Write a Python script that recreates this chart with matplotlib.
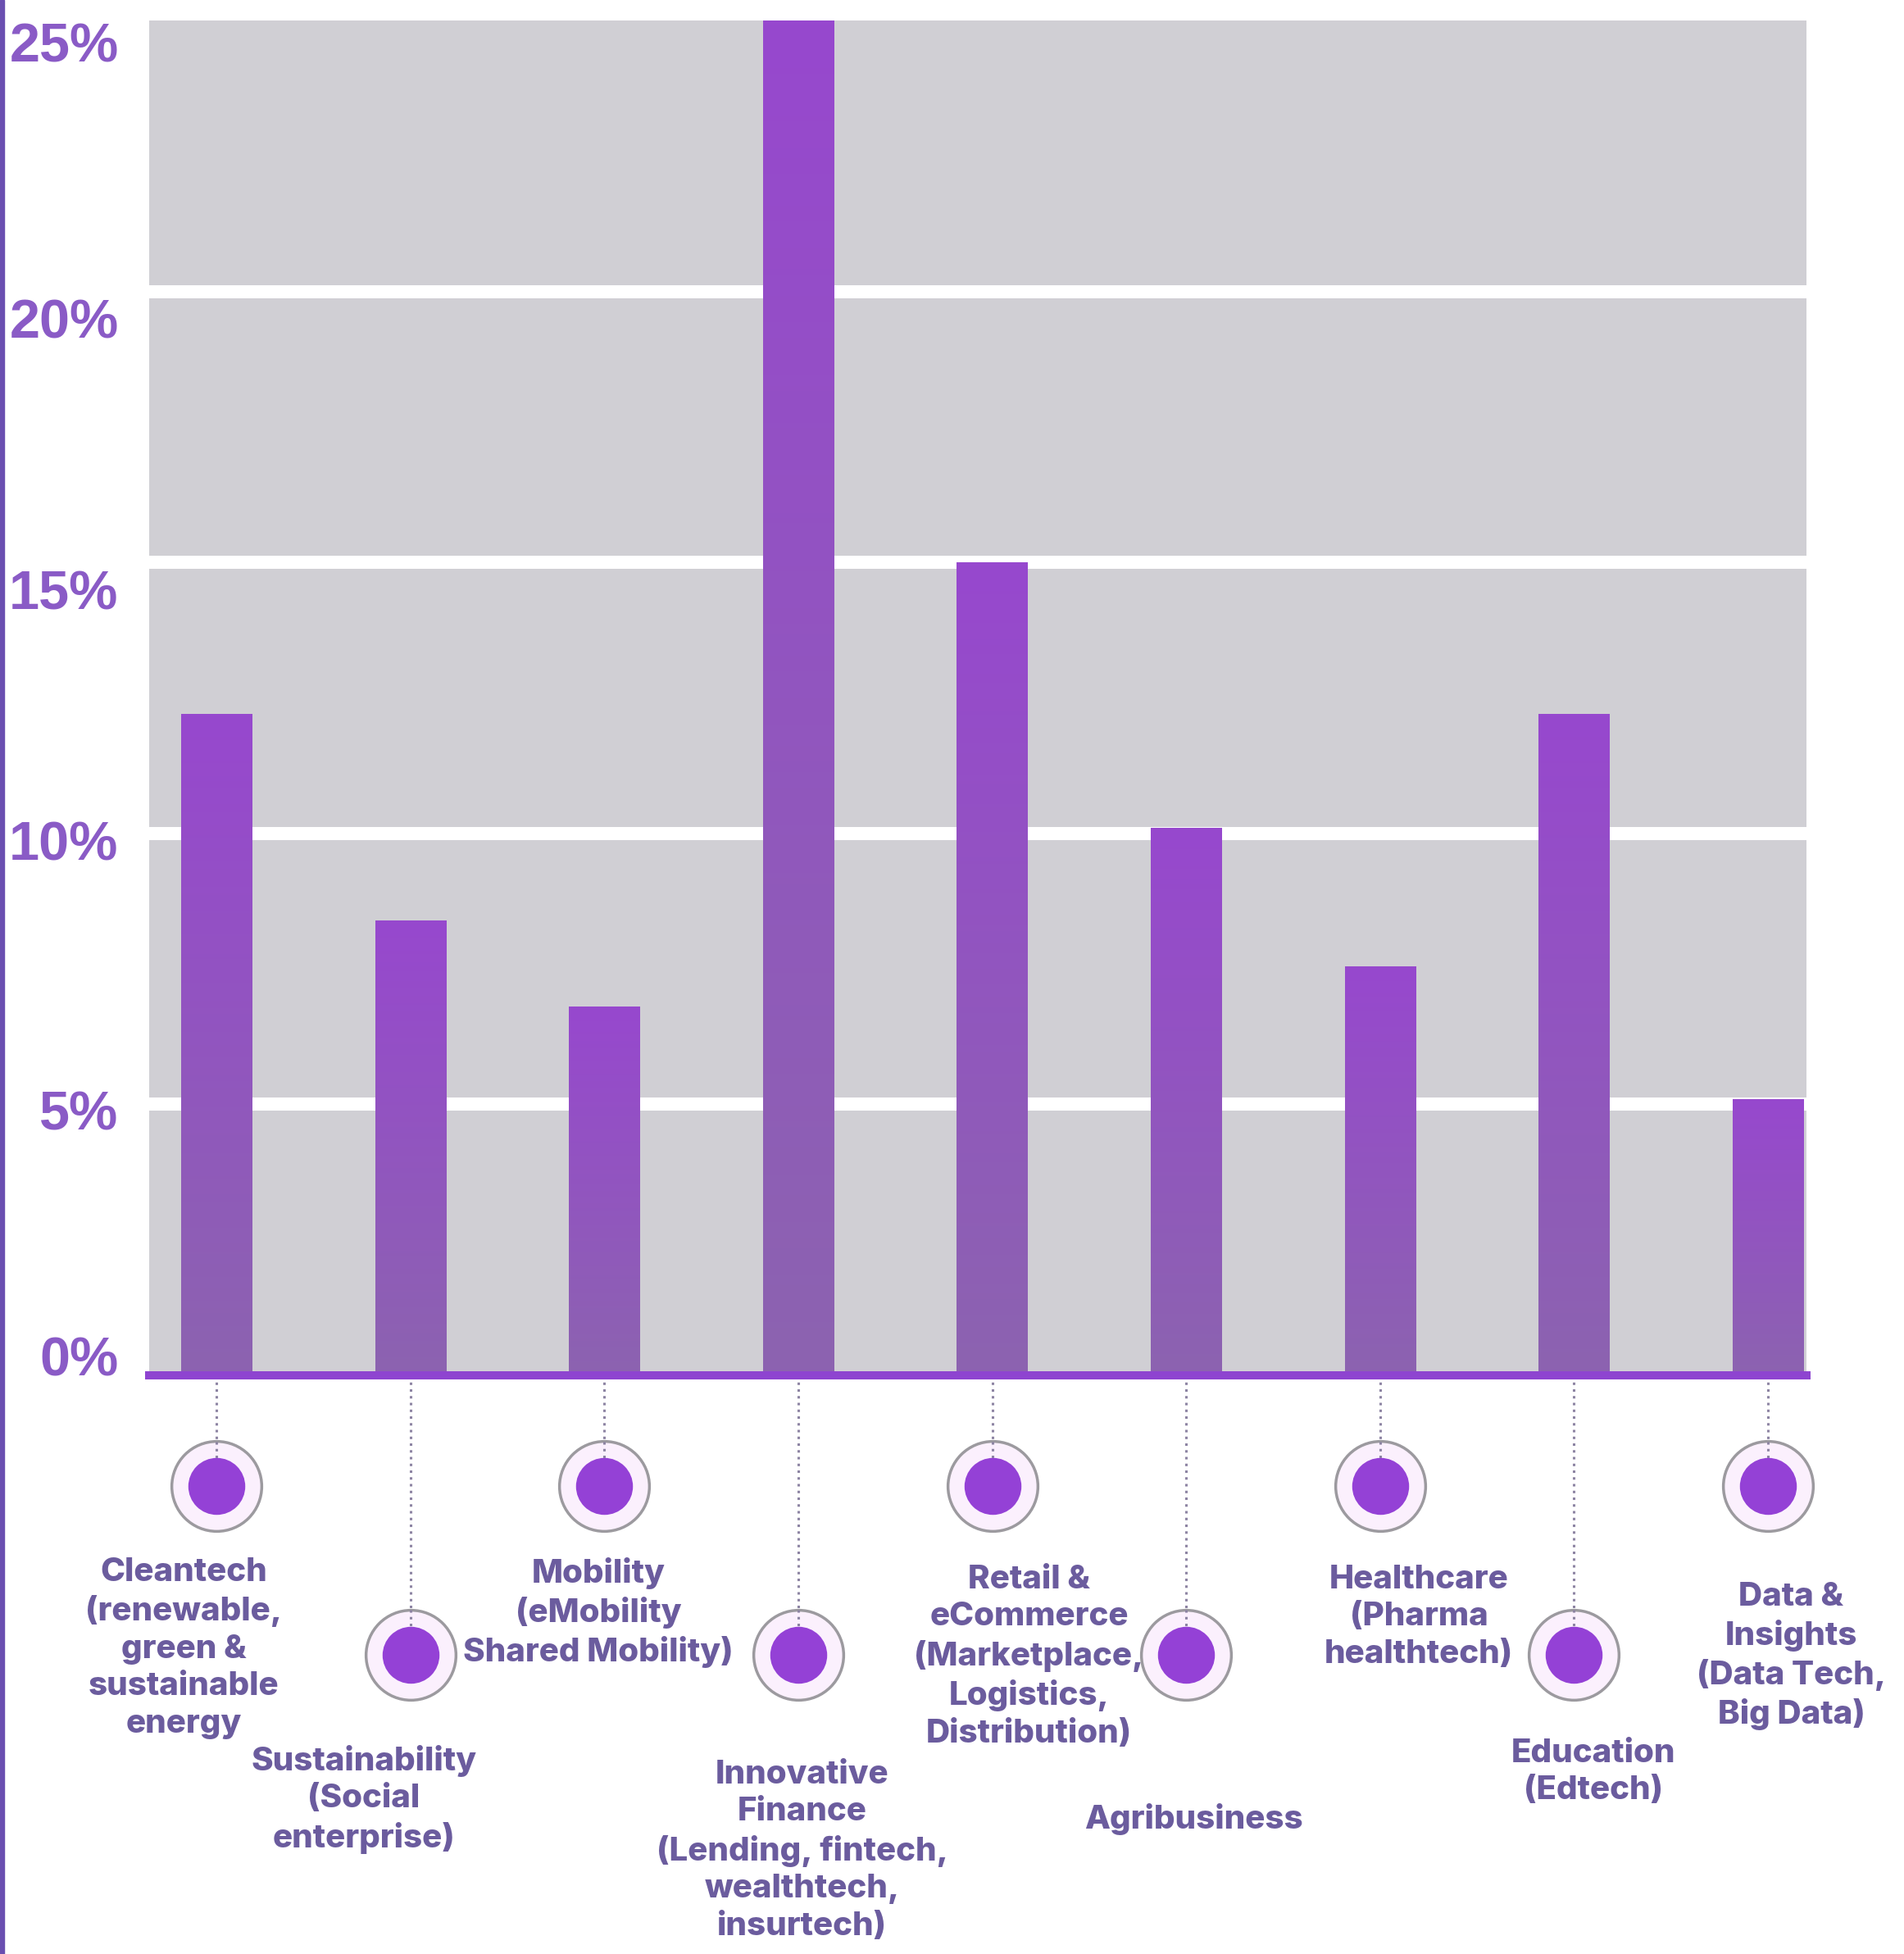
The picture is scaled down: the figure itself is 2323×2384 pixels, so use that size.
import numpy as np
import matplotlib.pyplot as plt
from matplotlib.colors import LinearSegmentedColormap
from matplotlib.patches import Rectangle
from matplotlib.transforms import ScaledTranslation

# sector shares (%)
sectors = [
    "Cleantech\n(renewable,\ngreen &\nsustainable\nenergy",
    "Sustainability\n(Social\nenterprise)",
    "Mobility\n(eMobility\nShared Mobility)",
    "Innovative\nFinance\n(Lending, fintech,\nwealthtech,\ninsurtech)",
    "Retail &\neCommerce\n(Marketplace,\nLogistics,\nDistribution)",
    "Agribusiness",
    "Healthcare\n(Pharma\nhealthtech)",
    "Education\n(Edtech)",
    "Data &\nInsights\n(Data Tech,\nBig Data)",
]
shares = [12.2, 8.4, 6.8, 25.0, 15.0, 10.1, 7.55, 12.2, 5.1]
tick_values = [0, 5, 10, 15, 20, 25]
tick_labels = ["0%", "5%", "10%", "15%", "20%", "25%"]

# layout of the label block under each bar (offset in bar units, top in axes fraction)
label_dx = [-0.17, -0.24, -0.03, 0.02, 0.19, 0.04, 0.20, 0.10, 0.12]
label_top = [-0.134, -0.2726, -0.134, -0.2835, -0.1395, -0.3156, -0.1395, -0.2678, -0.1522]
# small vertical nudges (points, downward) of the tick labels, as in the original
tick_dy = [-17, 5, 6, 24, 24, 19]

text_col = "#6b5c9e"
purple = "#9441d6"

fig = plt.figure(figsize=(23.23, 23.84), dpi=100)
fig.patches.append(Rectangle((0, 0), 5 / 2323, 1, transform=fig.transFigure,
                             color="#6a4fb0", zorder=10))
ax = fig.add_axes([0.07835, 0.29614, 0.87043, 0.69337])
ax.set_facecolor("#d0cfd4")

x = np.arange(len(shares))
bars = ax.bar(x, shares, width=0.364, color="none", zorder=3)

# vertical gradient inside every bar
cmap = LinearSegmentedColormap.from_list("barfade", ["#8c63b0", "#9748ce"])
grad = np.linspace(0, 1, 256).reshape(-1, 1)
for b in bars:
    x0 = b.get_x()
    im = ax.imshow(grad, extent=[x0, x0 + b.get_width(), 0, b.get_height()],
                   origin="lower", aspect="auto", cmap=cmap, zorder=3)
    im.set_clip_path(b)

ax.hlines(tick_values[1:-1], -1, 10, colors="white", lw=11.5, zorder=1)
ax.axhline(0, color="#8e44d0", lw=7.2, zorder=5, clip_on=False)

ax.set_xlim(-0.347, 8.199)
ax.set_ylim(0, 25)
ax.set_xticks([])
ax.set_yticks(tick_values)
ax.set_yticklabels(tick_labels, fontsize=48, fontweight="bold",
                   family="Liberation Sans", color="#8a5bc6")
ax.tick_params(axis="y", length=0, pad=27)
for lab, dy in zip(ax.get_yticklabels(), tick_dy):
    lab.set_transform(lab.get_transform() +
                      ScaledTranslation(0, -dy / 72, fig.dpi_scale_trans))
for s in ax.spines.values():
    s.set_visible(False)

# stems, markers and labels below the axis
xt = ax.get_xaxis_transform()
for i, name in enumerate(sectors):
    cy = -0.0817 if i % 2 == 0 else -0.2063
    ax.plot([i, i], [0, cy], transform=xt, color="#8d84a3", lw=2.2,
            ls=(0, (1, 1.7)), clip_on=False, zorder=2)
    ax.plot(i, cy, "o", transform=xt, ms=79, mfc="#fbf0fd", mec="#9c9a9f",
            mew=2.5, clip_on=False, zorder=3)
    ax.plot([i, i], [cy + 0.033, cy], transform=xt, color="#8d84a3", lw=2.2,
            ls=(0, (1, 1.7)), clip_on=False, zorder=4)
    ax.plot(i, cy, "o", transform=xt, ms=50, mfc=purple, mec=purple,
            mew=0, clip_on=False, zorder=5)
    ax.text(i + label_dx[i], label_top[i], name, transform=xt, ha="center",
            va="top", fontsize=29, fontweight=800, family="Inter",
            color=text_col, linespacing=1.3, clip_on=False)

fig.savefig("out.png", dpi=100)
